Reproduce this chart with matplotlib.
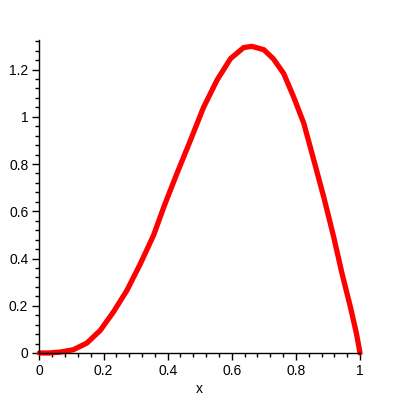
import matplotlib
matplotlib.use("Agg")
import matplotlib.pyplot as plt
from matplotlib.ticker import MultipleLocator

# values
x_vals = [0.0, 0.03, 0.065, 0.106, 0.148, 0.19, 0.231, 0.273, 0.315, 0.356,
          0.39, 0.429, 0.471, 0.512, 0.554, 0.596, 0.637, 0.663, 0.70, 0.73,
          0.762, 0.793, 0.825, 0.856, 0.887, 0.918, 0.944, 0.97, 0.989, 1.0]
y_vals = [0.0, 0.0, 0.004, 0.014, 0.042, 0.096, 0.174, 0.265, 0.378, 0.498,
          0.625, 0.76, 0.90, 1.04, 1.155, 1.246, 1.293, 1.298, 1.284, 1.245,
          1.183, 1.084, 0.971, 0.816, 0.66, 0.491, 0.336, 0.195, 0.082, 0.0]
x_ticks = [0, 0.2, 0.4, 0.6, 0.8, 1]
x_tick_labels = ["0", "0.2", "0.4", "0.6", "0.8", "1"]
y_ticks = [0, 0.2, 0.4, 0.6, 0.8, 1, 1.2]
y_tick_labels = ["0", "0.2", "0.4", "0.6", "0.8", "1", "1.2"]

plt.rcParams['font.family'] = ['Liberation Sans', 'DejaVu Sans']

fig = plt.figure(figsize=(4, 4), dpi=100)
ax = fig.add_axes([0.0985, 0.1175, 0.8015, 0.7825])

ax.plot(x_vals, y_vals, color="#ff0000", lw=3.8, solid_capstyle="round",
        solid_joinstyle="round", clip_on=False)

ax.set_xlim(0, 1)
ax.set_ylim(0, 1.325)
for side in ["top", "right"]:
    ax.spines[side].set_visible(False)
for side in ["left", "bottom"]:
    ax.spines[side].set_linewidth(1.0)
    ax.spines[side].set_color("black")

ax.set_xticks(x_ticks)
ax.set_xticklabels(x_tick_labels)
ax.set_yticks(y_ticks)
ax.set_yticklabels(y_tick_labels)
ax.xaxis.set_minor_locator(MultipleLocator(0.04))
ax.yaxis.set_minor_locator(MultipleLocator(0.04))
ax.tick_params(which="major", length=5, width=1, labelsize=10, pad=3)
ax.tick_params(which="minor", length=3, width=1)

ax.set_xlabel("x", fontsize=10, labelpad=3)

fig.savefig("out.png", dpi=100)
